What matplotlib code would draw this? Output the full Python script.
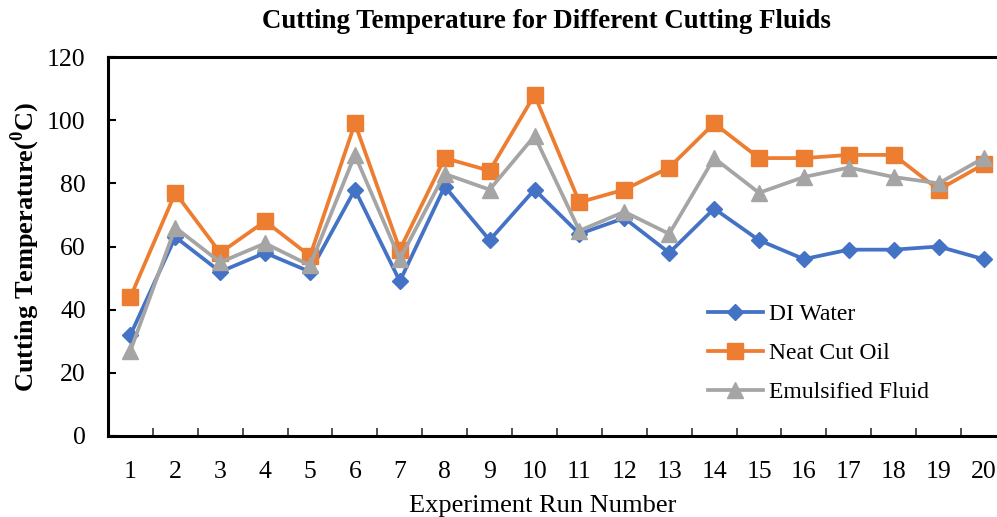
import matplotlib
matplotlib.use("Agg")
import matplotlib.pyplot as plt
from matplotlib.ticker import FixedLocator

runs = list(range(1, 21))
di_water = [32, 63, 52, 58, 52, 78, 49, 79, 62, 78, 64, 69, 58, 72, 62, 56, 59, 59, 60, 56]
neat_cut_oil = [44, 77, 58, 68, 57, 99, 59, 88, 84, 108, 74, 78, 85, 99, 88, 88, 89, 89, 78, 86]
emulsified = [27, 66, 55, 61, 54, 89, 56, 83, 78, 95, 65, 71, 64, 88, 77, 82, 85, 82, 80, 88]

plt.rcParams["font.family"] = ["Liberation Serif", "DejaVu Serif"]
plt.rcParams["mathtext.fontset"] = "custom"
plt.rcParams["mathtext.rm"] = "Liberation Serif:bold"
plt.rcParams["mathtext.bf"] = "Liberation Serif:bold"

fig = plt.figure(figsize=(9.97, 5.17), dpi=100)
# plot area runs a little past the right edge of the picture, like the original
ax = fig.add_axes([0.1083, 0.1567, 0.9007, 0.733])

ax.plot(runs, di_water, color="#4472C4", lw=2.7, marker="D", ms=8.5, label="DI Water")
ax.plot(runs, neat_cut_oil, color="#ED7D31", lw=2.7, marker="s", ms=11.5, label="Neat Cut Oil")
ax.plot(runs, emulsified, color="#A5A5A5", lw=2.7, marker="^", ms=11.5, label="Emulsified Fluid")

ax.set_xlim(0.5, 20.5)
ax.set_ylim(0, 120)
ax.set_yticks(range(0, 121, 20))
ax.set_xticks(runs)
ax.xaxis.set_minor_locator(FixedLocator([r + 0.5 for r in runs]))
ax.tick_params(axis="x", which="major", length=0, labelsize=18.5, pad=18)
ax.tick_params(axis="x", which="minor", length=6, width=1.2, direction="in", color="#333333")
ax.tick_params(axis="y", length=6, width=1.5, direction="in", labelsize=18.5, pad=16)

for side in ["left", "bottom", "top"]:
    ax.spines[side].set_linewidth(2.2)
ax.spines["right"].set_visible(False)

ax.set_title("Cutting Temperature for Different Cutting Fluids", fontsize=19.4,
             fontweight="bold", pad=21)
ax.title.set_x(0.4878)
ax.set_xlabel("Experiment Run Number", fontsize=19, labelpad=8.5)
ax.xaxis.label.set_x(0.4844)
ax.set_ylabel(r"Cutting Temperature($^{\mathbf{0}}$C)", fontsize=19, fontweight="bold",
              labelpad=3.5)

ax.legend(loc="upper left", bbox_to_anchor=(0.658, 0.375), frameon=False, fontsize=17,
          handlelength=2.3, handletextpad=0.25, labelspacing=0.75, borderaxespad=0)

fig.savefig("out.png", dpi=100)
